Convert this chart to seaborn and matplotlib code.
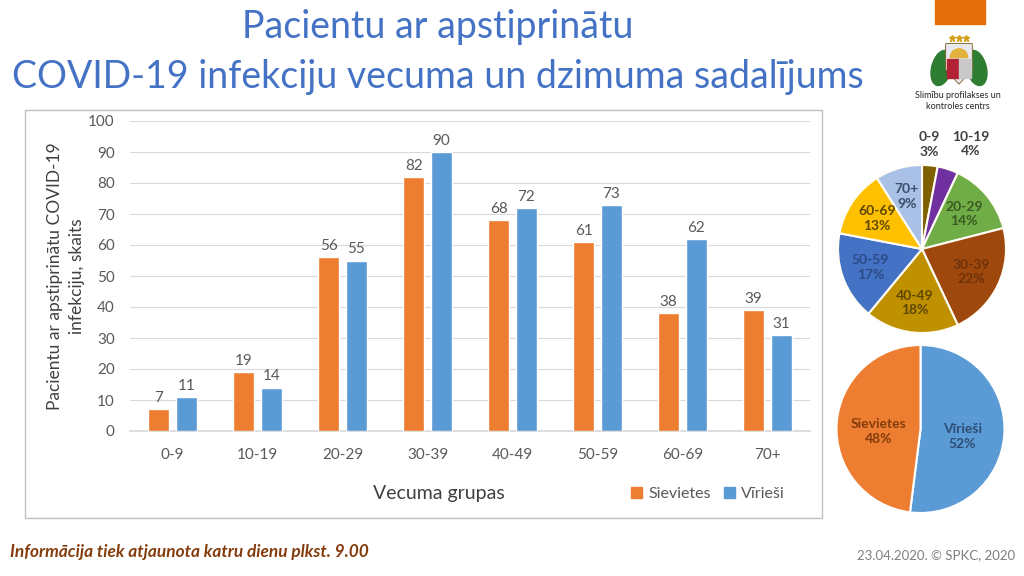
import matplotlib.pyplot as plt
import matplotlib.patches as mpatches
import seaborn as sns
import pandas as pd
import numpy as np

# data
grupas = ['0-9', '10-19', '20-29', '30-39', '40-49', '50-59', '60-69', '70+']
sievietes = [7, 19, 56, 82, 68, 61, 38, 39]
virieši = [11, 14, 55, 90, 72, 73, 62, 31]
vecums_proc = [3, 4, 14, 22, 18, 17, 13, 9]
dzimums = ['Vīrieši', 'Sievietes']
dzimums_proc = [52, 48]

orange = '#ED7D31'
blue = '#5B9BD5'
pie_colors = ['#7F6000', '#7030A0', '#70AD47', '#9E480E', '#BF9000', '#4472C4', '#FFC000', '#A9C1E6']
pie_text = ['#404040', '#404040', '#3A5A22', '#6E3209', '#5E4700', '#2A4A85', '#5E4700', '#3B4E6B']

df = pd.DataFrame({
    'grupa': grupas * 2,
    'dzimums': ['Sievietes'] * len(grupas) + ['Vīrieši'] * len(grupas),
    'skaits': sievietes + virieši,
})

sns.set_theme(style='white')
plt.rcParams['font.family'] = ['Lato', 'DejaVu Sans']

fig = plt.figure(figsize=(10.24, 5.76), dpi=100)
W, H = 1024, 576

def box(x0, y0, x1, y1):
    # pixel box (top-left origin) -> figure fraction rect
    return [x0 / W, 1 - y1 / H, (x1 - x0) / W, (y1 - y0) / H]

# chart frame
fig.patches.append(mpatches.Rectangle((25 / W, 1 - 518 / H), (822 - 25) / W, (518 - 110) / H,
                                      transform=fig.transFigure, fill=False,
                                      edgecolor='#BFBFBF', lw=1))

# title
fig.text(438 / W, 1 - 38 / H, 'Pacientu ar apstiprinātu', ha='center', va='baseline',
         fontsize=27, color='#4472C4')
fig.text(438 / W, 1 - 88 / H, 'COVID-19 infekciju vecuma un dzimuma sadalījums', ha='center',
         va='baseline', fontsize=27, color='#4472C4')

# bar chart
ax = fig.add_axes(box(130, 121, 810, 431))
sns.barplot(data=df, x='grupa', y='skaits', hue='dzimums', palette=[orange, blue],
            saturation=1, width=0.65, gap=0.25, ax=ax, legend=False, zorder=3)
for c in ax.containers:
    ax.bar_label(c, padding=3, color='#595959', fontsize=11)
ax.set_ylim(0, 100)
ax.set_yticks(range(0, 101, 10))
ax.yaxis.grid(True, color='#D9D9D9', lw=0.8, zorder=0)
ax.xaxis.grid(False)
for s in ['top', 'right', 'left']:
    ax.spines[s].set_visible(False)
ax.spines['bottom'].set_color('#D9D9D9')
ax.tick_params(length=0, colors='#595959', labelsize=11)
ax.tick_params(axis='y', pad=11)
ax.tick_params(axis='x', pad=12)
ax.set_xlabel('')
ax.set_ylabel('')

fig.text(66 / W, 1 - 276 / H, 'Pacientu ar apstiprinātu COVID-19\ninfekciju, skaits',
         rotation=90, ha='center', va='center', multialignment='center', fontsize=12.5,
         color='#404040', linespacing=1.45)
fig.text(439 / W, 1 - 494 / H, 'Vecuma grupas', ha='center', va='center', fontsize=14,
         color='#404040')
handles = [mpatches.Patch(color=orange, label='Sievietes'),
           mpatches.Patch(color=blue, label='Vīrieši')]
leg = fig.legend(handles=handles, loc='center', bbox_to_anchor=(708 / W, 1 - 494 / H), ncol=2,
                 frameon=False, fontsize=11.5, handlelength=0.7, handleheight=0.7,
                 handletextpad=0.4, columnspacing=0.8)
for t in leg.get_texts():
    t.set_color('#595959')

# age pie
pax = fig.add_axes(box(838, 165, 1006, 333))
wedges, _ = pax.pie(vecums_proc, colors=pie_colors, startangle=90, counterclock=False,
                    wedgeprops=dict(edgecolor='#FFFDF5', linewidth=1.5))
pax.set_xlim(-1, 1)
pax.set_ylim(-1, 1)
pax.set_aspect('equal')
for i, w in enumerate(wedges):
    ang = np.deg2rad((w.theta1 + w.theta2) / 2)
    d = 0.65
    if i == 0:
        d, ang = 1.25, np.deg2rad(86)
    elif i == 1:
        d, ang = 1.38, np.deg2rad(65)
    pax.text(d * np.cos(ang), d * np.sin(ang), f'{grupas[i]}\n{vecums_proc[i]}%',
             ha='center', va='center', fontsize=10, fontweight='bold',
             color=pie_text[i], linespacing=1.25)

# gender pie
gax = fig.add_axes(box(836, 345, 1005, 513))
gw, _ = gax.pie(dzimums_proc, colors=[blue, orange], startangle=90, counterclock=False,
                wedgeprops=dict(edgecolor='white', linewidth=1.5))
gax.set_xlim(-1, 1)
gax.set_ylim(-1, 1)
gax.set_aspect('equal')
gtext = ['#2E4D75', '#843C0C']
for i, w in enumerate(gw):
    ang = np.deg2rad((w.theta1 + w.theta2) / 2)
    gax.text(0.5 * np.cos(ang), 0.5 * np.sin(ang) - 0.06, f'{dzimums[i]}\n{dzimums_proc[i]}%',
             ha='center', va='center', fontsize=10, fontweight='bold', color=gtext[i],
             linespacing=1.3)

# logo area
fig.patches.append(mpatches.Rectangle((935 / W, 1 - 24 / H), 50 / W, 24 / H,
                                      transform=fig.transFigure, color='#E46C0A'))
lax = fig.add_axes(box(930, 32, 988, 90))
lax.set_xlim(0, 1)
lax.set_ylim(0, 1)
lax.axis('off')
lax.add_patch(mpatches.Ellipse((0.2, 0.38), 0.34, 0.62, angle=-15, color='#2E7D32'))
lax.add_patch(mpatches.Ellipse((0.8, 0.38), 0.34, 0.62, angle=15, color='#2E7D32'))
lax.add_patch(mpatches.Polygon([(0.27, 0.8), (0.73, 0.8), (0.73, 0.35), (0.5, 0.1), (0.27, 0.35)],
                               closed=True, facecolor='#E8E8F0', edgecolor='#7A5C1E', lw=0.6))
lax.add_patch(mpatches.Wedge((0.5, 0.56), 0.15, 0, 180, color='#E3B23C'))
lax.add_patch(mpatches.Rectangle((0.29, 0.2), 0.21, 0.34, color='#B22234'))
lax.add_patch(mpatches.Rectangle((0.5, 0.2), 0.21, 0.34, color='#C9C9C9'))
for sx in (0.38, 0.5, 0.62):
    lax.plot(sx, 0.9, marker='*', color='#D4A017', markersize=5)

fig.text(958 / W, 1 - 101 / H, 'Slimību profilakses un\nkontroles centrs', ha='center',
         va='center', fontsize=6.5, color='#262626', linespacing=1.25)

# footer
fig.text(10 / W, 1 - 552 / H, 'Informācija tiek atjaunota katru dienu plkst. 9.00',
         ha='left', va='center', fontsize=12.4, fontweight='bold', fontstyle='italic',
         color='#843C0C')
fig.text(1015 / W, 1 - 555 / H, '23.04.2020. © SPKC, 2020', ha='right', va='center',
         fontsize=9.5, color='#7F7F7F')

fig.savefig('out.png', dpi=100)
